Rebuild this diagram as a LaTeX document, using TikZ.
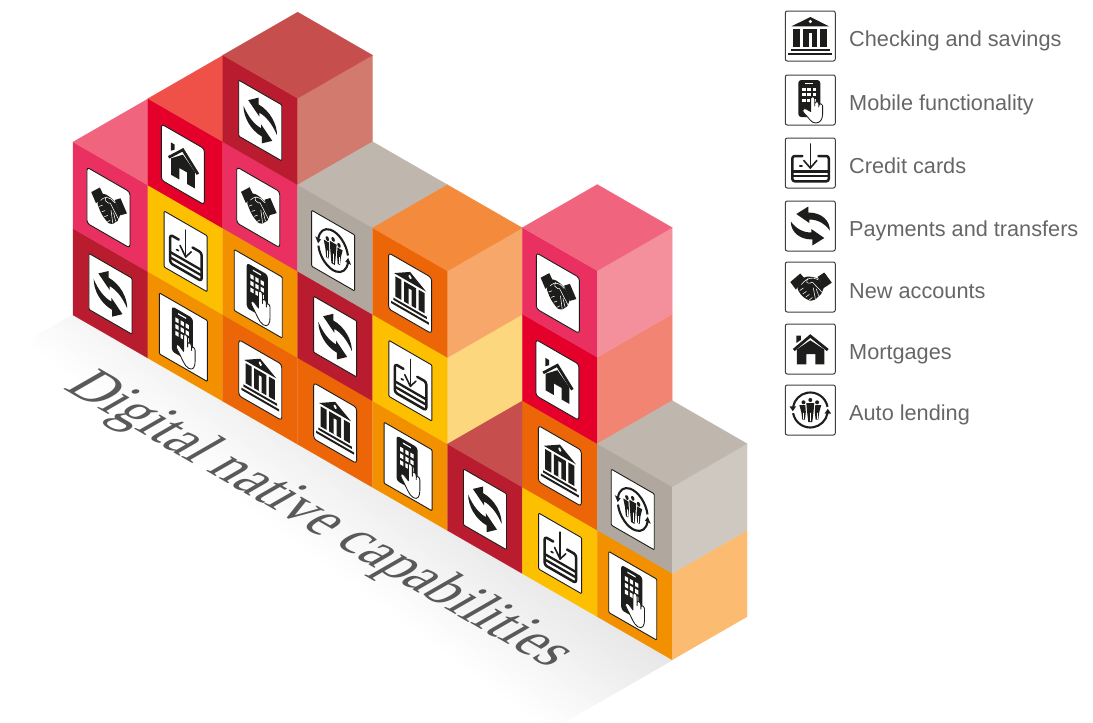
\documentclass[tikz,border=0pt]{standalone}
\usepackage{fontspec}
\setmainfont{Liberation Sans}
\newfontfamily\titlefont{Liberation Serif}
\definecolor{ink}{HTML}{1D1D1B}
\definecolor{lab}{HTML}{666666}
\definecolor{pinkF}{HTML}{E93060}\definecolor{pinkS}{HTML}{F48F9C}\definecolor{pinkT}{HTML}{F0657D}
\definecolor{redF}{HTML}{E4002B}\definecolor{redS}{HTML}{F28473}\definecolor{redT}{HTML}{EF5148}
\definecolor{drF}{HTML}{B91C2E}\definecolor{drS}{HTML}{D27A6E}\definecolor{drT}{HTML}{C64F4E}
\definecolor{grF}{HTML}{B0A79E}\definecolor{grS}{HTML}{CFC8C1}\definecolor{grT}{HTML}{BFB6AD}
\definecolor{doF}{HTML}{EC6608}\definecolor{doS}{HTML}{F7A769}\definecolor{doT}{HTML}{F48A3B}
\definecolor{orF}{HTML}{F39000}\definecolor{orS}{HTML}{FBBC72}
\definecolor{yeF}{HTML}{FDC000}\definecolor{yeS}{HTML}{FDD77D}
\tikzset{inkfill/.style={fill=ink,draw=none},
 inkline/.style={draw=ink,line cap=round,line join=round},
 whiteline/.style={draw=white,line cap=round,line join=round,line width=.55pt},
 tilebox/.style={fill=white,draw=ink,line width=.9pt},
 legendtext/.style={text=lab,font=\fontsize{21.7}{24}\selectfont,anchor=base west,inner sep=0pt}}
% icons in a 50 x 50 box centred on the origin, y up
\newcommand{\iconBank}{%
 \path[inkfill] (-18.7,9.7)--(0,19)--(18.7,9.7)--cycle;
 \path[fill=white] (0,14.5) circle (1.8);
 \path[inkfill] (-17,7.5) rectangle (-10,-10.5);
 \path[inkfill] (10,7.5) rectangle (17,-10.5);
 \path[inkfill] (-7,7.5) rectangle (7,-10.5);
 \path[fill=white] (-1.7,3.5) rectangle (1.7,-10.6);
 \path[inkfill] (-19.5,-12.5) rectangle (19.5,-14.5);
 \path[inkfill] (-22,-16.5) rectangle (22,-18.5);}
\newcommand{\iconPhone}{%
 \path[inkfill,rounded corners=3] (-12,20) rectangle (10,-17);
 \path[fill=white] (-5.5,17.3) rectangle (3,16.2);
 \foreach \u in {-8.2,-2.9,2.4} \foreach \v in {12.5,7,1.5}
   {\path[fill=white] (\u,\v) rectangle ++(3.4,-3.4);}
 \path[fill=white,draw=ink,line width=.85pt,line join=round]
  (.3,-8)--(.3,1) arc (180:0:2.1)--(4.5,-6)--(4.5,-3.8) arc (180:0:2)
  --(8.5,-7)--(8.5,-5.5) arc (180:0:1.9)--(12.3,-14)
  ..controls (12.3,-19) and (10,-23) .. (5.5,-23)
  ..controls (.5,-23) and (-1,-18) .. (-6,-13.5)
  ..controls (-9,-11) and (-7,-7.5) .. (-4,-9) --(.3,-11.5)--cycle;}
\newcommand{\iconCard}{%
 \path[inkline,line width=2.5pt,rounded corners=2.5]
  (-8,7)--(-18,7)--(-18,-18.3)--(18.5,-18.3)--(18.5,7)--(8,7);
 \path[inkline,line width=2.3pt] (-18,-8.5)--(18.5,-8.5);
 \path[inkline,line width=2.3pt] (-18,-13.3)--(18.5,-13.3);
 \path[inkline,line width=1.7pt] (-10.5,-3)--(-8.3,-3);
 \path[inkline,line width=1.6pt] (0,19)--(0,-5);
 \path[inkline,line width=1.6pt] (-6.5,2.5)--(0,-5)--(6.5,2.5);}
\newcommand{\swoosh}{%
 \path[inkfill] (19.5,-4.5) ..controls (19.5,5) and (12,13.5) .. (-2,13.5)
   --(-2,19.5)--(-14,12)--(-1,3)--(-1,6.5)
   ..controls (7,6.5) and (14,3) .. (19.5,-4.5)--cycle;}
\newcommand{\iconPay}{%
 \swoosh
 \begin{scope}[rotate=180]\swoosh\end{scope}}
\newcommand{\iconShake}{%
 \path[inkfill] (-20,5)--(-10,13.5)--(-5,7.7)--(-14.5,-2.5)--cycle;
 \path[inkfill] (7.3,10)--(14,14.5)--(21.5,4.3)--(14,-.7)--cycle;
 \path[inkfill,rounded corners=1pt] (-9,8.5)--(-3,10.5)--(3,10)--(8.5,8)--(14,.5)--(11,-7)--(8,-9.5)--(5,-12.5)--(0,-14)--(-3,-12.5)--(-6.5,-10.5)--(-9.5,-7.5)--(-13,-2)--cycle;
 \path[whiteline] (-9,2.5)..controls (-6,6) and (-3,9) .. (3,9)--(7.5,7.5);
 \path[whiteline] (-2.5,8.5)..controls (-5,5) and (-3,3) .. (0,4)--(2,5)--(12,-5.5);
 \path[whiteline] (6,-2)--(8.3,-8.5);
 \path[whiteline] (3,-1)--(5,-11.5);
 \path[whiteline] (-10.5,-3.5)--(-7,-1);
 \path[whiteline] (-7.5,-7)--(-4,-4.5);
 \path[whiteline] (-4.5,-10)--(-1,-7.5);
 \path[whiteline] (-1,-13)--(2,-10.5);}
\newcommand{\iconHouse}{%
 \path[inkfill] (-14,6)--(-14,13.5)--(-9.5,13.5)--(-9.5,9)--cycle;
 \path[inkline,line width=2.8pt,line cap=butt,line join=miter] (-16.5,-1)--(0,13)--(17.5,-1);
 \path[inkfill] (-13.5,-.5)--(0,8.7)--(14,-.5)--(14,-15.3)--(5,-15.3)--(5,-5)--(-4,-5)--(-4,-15.3)--(-13.5,-15.3)--cycle;}
\newcommand{\iconAuto}{%
 \path[inkline,line width=2.1pt,line cap=butt] (17.2,3.2) arc (10.5:169.5:17.5);
 \path[inkline,line width=2.1pt,line cap=butt] (-17.2,-3.2) arc (190.5:349.5:17.5);
 \path[inkfill] (-20.8,3.6)--(-14.2,3.6)--(-17.5,-1.2)--cycle;
 \path[inkfill] (20.8,-3.6)--(14.2,-3.6)--(17.5,1.2)--cycle;
 \foreach \hx/\hy in {-6.8/7.7,0/10,6.8/7.7}{\path[inkfill] (\hx,\hy) circle (2);}
 \path[inkfill] (-4,7)--(4,7)--(3.2,-2)--(2,-12)--(-2,-12)--(-3.2,-2)--cycle;
 \path[inkfill] (-11,5)--(-5,5)--(-4.5,-2)--(-5.3,-9.5)--(-8,-9.5)--(-9,-2)--cycle;
 \path[inkfill] (11,5)--(5,5)--(4.5,-2)--(5.3,-9.5)--(8,-9.5)--(9,-2)--cycle;
 \path[whiteline,line width=.5pt] (0,-11)--(0,-3) (-6.7,-9)--(-6.7,-3) (6.7,-9)--(6.7,-3);}
% isometric wall
\newcommand{\cube}[5]{% column, level, front, side, top
 \pgfmathsetmacro{\xa}{73+74.9*#1}
 \pgfmathsetmacro{\ya}{315+43.1*#1-86.5*#2}
 \fill[#3,draw=#3,line width=.2pt] (\xa,\ya)--++(74.9,43.1)--++(0,-86.5)--++(-74.9,-43.1)--cycle;
 \fill[#4,draw=#4,line width=.2pt] (\xa+74.9,\ya+43.1)--++(74.9,-43.1)--++(0,-86.5)--++(-74.9,43.1)--cycle;
 \ifx#5\relax\else
 \fill[#5,draw=#5,line width=.2pt] (\xa,\ya-86.5)--++(74.9,43.1)--++(74.9,-43.1)--++(-74.9,-43.1)--cycle;
 \fi}
\newcommand{\tile}[8]{% c,h,dx,dy,sx,sy,radius,icon
 \pgfmathsetmacro{\cx}{73+74.9*(#1+.5)+#3}
 \pgfmathsetmacro{\cy}{315+43.1*(#1+.5)-86.5*(#2+.5)+#4}
 \pgfmathsetmacro{\sk}{-0.5755*#5}
 \begin{scope}[x=1pt,y=1pt,cm={#5,\sk,0,#6,(\cx pt,-\cy pt)}]
 \path[tilebox,rounded corners=#7] (-25,-25) rectangle (25,25);
 #8
 \end{scope}}
\newcommand{\tPay}[2]{\tile{#1}{#2}{0}{.5}{.86}{1.12}{1pt}{\iconPay}}
\newcommand{\tBank}[2]{\tile{#1}{#2}{0}{.5}{.86}{1.12}{3pt}{\iconBank}}
\newcommand{\tCard}[2]{\tile{#1}{#2}{.3}{1.5}{.86}{1.12}{1pt}{\iconCard}}
\newcommand{\tPhone}[2]{\tile{#1}{#2}{-2}{.8}{.96}{1.22}{1pt}{\iconPhone}}
\newcommand{\tShake}[2]{\tile{#1}{#2}{-2}{.8}{.86}{1.12}{3pt}{\iconShake}}
\newcommand{\tHouse}[2]{\tile{#1}{#2}{-2.5}{1}{.86}{1.12}{3pt}{\iconHouse}}
\newcommand{\tAuto}[2]{\tile{#1}{#2}{-2}{1}{.86}{1.12}{1pt}{\iconAuto}}
\newcommand{\legend}[4]{% centre y, baseline y, icon, text
 \begin{scope}[x=1pt,y=1pt,shift={(810.3pt,-#1pt)}]
 \path[fill=white,draw=ink!85,line width=1pt,rounded corners=2pt] (-25,-25) rectangle (25,25);
 #3
 \end{scope}
 \node[legendtext] (lg#1) at (849,#2) {#4};}
\begin{document}
\begin{tikzpicture}[x=1pt,y=-1pt]
\useasboundingbox (0,0) rectangle (1093,723);
% floor shadow: fades away from the wall, in thin bands
\begin{scope}
 \clip (73,315)--(672,660)--(540,736)--(20,345)--cycle;
 \begin{scope}[x=1pt,y=1pt,shift={(26pt,-345pt)},rotate=-36.5]
  \foreach \i in {0,...,43}{
   \pgfmathsetmacro{\pct}{9.5*\i/43}
   \fill[black!\pct] (-100,\i*3) rectangle (1000,140);}
 \end{scope}
\end{scope}
\begin{scope}[cm={.867,-.4988,1.0,.575,(62pt,-388pt)},x=1pt,y=1pt]
 \node[anchor=base west,inner sep=0pt,text=black!65,transform shape,font=\titlefont\fontsize{54.6}{60}\selectfont] (title) at (0,0) {Digital native capabilities};
\end{scope}
% columns, left to right, bottom to top
\cube{0}{0}{drF}{drS}{\relax}\cube{0}{1}{pinkF}{pinkS}{pinkT}
\tPay{0}{0}\tShake{0}{1}
\cube{1}{0}{orF}{orS}{\relax}\cube{1}{1}{yeF}{yeS}{\relax}\cube{1}{2}{redF}{redS}{redT}
\tPhone{1}{0}\tCard{1}{1}\tHouse{1}{2}
\cube{2}{0}{doF}{doS}{\relax}\cube{2}{1}{orF}{orS}{\relax}\cube{2}{2}{pinkF}{pinkS}{\relax}\cube{2}{3}{drF}{drS}{drT}
\tBank{2}{0}\tPhone{2}{1}\tShake{2}{2}\tPay{2}{3}
\cube{3}{0}{doF}{doS}{\relax}\cube{3}{1}{drF}{drS}{\relax}\cube{3}{2}{grF}{grS}{grT}
\tBank{3}{0}\tPay{3}{1}\tAuto{3}{2}
\cube{4}{0}{orF}{orS}{\relax}\cube{4}{1}{yeF}{yeS}{\relax}\cube{4}{2}{doF}{doS}{doT}
\tPhone{4}{0}\tCard{4}{1}\tBank{4}{2}
\cube{5}{0}{drF}{drS}{drT}
\tPay{5}{0}
\cube{6}{0}{yeF}{yeS}{\relax}\cube{6}{1}{doF}{doS}{\relax}\cube{6}{2}{redF}{redS}{\relax}\cube{6}{3}{pinkF}{pinkS}{pinkT}
\tCard{6}{0}\tBank{6}{1}\tHouse{6}{2}\tShake{6}{3}
\cube{7}{0}{orF}{orS}{\relax}\cube{7}{1}{grF}{grS}{grT}
\tPhone{7}{0}\tAuto{7}{1}
% legend
\legend{36}{46.7}{\iconBank}{Checking and savings}
\legend{100}{110.5}{\iconPhone}{Mobile functionality}
\legend{163}{173.5}{\iconCard}{Credit cards}
\legend{226}{236.7}{\iconPay}{Payments and transfers}
\legend{287}{298}{\iconShake}{New accounts}
\legend{349}{359}{\iconHouse}{Mortgages}
\legend{410}{420.7}{\iconAuto}{Auto lending}
\end{tikzpicture}
\end{document}
